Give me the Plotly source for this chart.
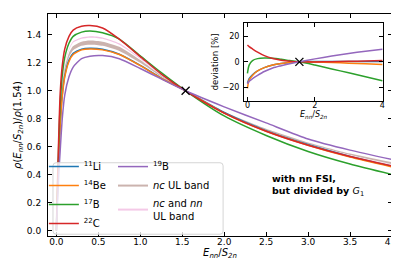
import plotly.graph_objects as go

# ---------------- data ----------------
E = [0.0, 0.005, 0.01, 0.02, 0.03, 0.045, 0.07, 0.1, 0.15, 0.2, 0.3, 0.4, 0.55, 0.75,
     1.0, 1.25, 1.54, 2.0, 2.5, 3.0, 3.5, 4.0]

rho_Li11 = [0, 0.115, 0.22, 0.39, 0.56, 0.76, 0.97, 1.11, 1.22, 1.268, 1.298, 1.305, 1.298, 1.262,
            1.182, 1.091, 1.0, 0.845, 0.715, 0.615, 0.53, 0.46]
rho_Be14 = [0, 0.11, 0.21, 0.38, 0.55, 0.75, 0.96, 1.10, 1.21, 1.26, 1.293, 1.30, 1.293, 1.26,
            1.18, 1.09, 1.0, 0.84, 0.71, 0.61, 0.525, 0.455]
rho_B17 = [0, 0.13, 0.25, 0.46, 0.66, 0.90, 1.11, 1.24, 1.34, 1.39, 1.42, 1.428, 1.415, 1.37,
           1.25, 1.13, 1.0, 0.82, 0.68, 0.565, 0.475, 0.40]
rho_C22 = [0, 0.15, 0.28, 0.50, 0.72, 0.98, 1.18, 1.30, 1.39, 1.435, 1.462, 1.467, 1.45, 1.37,
           1.245, 1.12, 1.0, 0.84, 0.71, 0.61, 0.53, 0.462]
rho_B19 = [0, 0.08, 0.15, 0.28, 0.42, 0.57, 0.80, 0.97, 1.10, 1.17, 1.23, 1.248, 1.252, 1.23,
           1.16, 1.085, 1.0, 0.885, 0.77, 0.655, 0.575, 0.508]
nc_lo = [0, 0.12, 0.23, 0.41, 0.59, 0.80, 1.01, 1.14, 1.24, 1.29, 1.322, 1.33, 1.322, 1.285,
         1.20, 1.10, 1.0, 0.845, 0.72, 0.62, 0.54, 0.475]
nc_hi = [0, 0.125, 0.24, 0.43, 0.62, 0.84, 1.05, 1.17, 1.27, 1.32, 1.352, 1.36, 1.352, 1.315,
         1.22, 1.11, 1.0, 0.85, 0.728, 0.63, 0.55, 0.488]
ncnn_lo = [0, 0.13, 0.245, 0.45, 0.64, 0.87, 1.07, 1.19, 1.29, 1.345, 1.372, 1.38, 1.372, 1.33,
           1.228, 1.113, 1.0, 0.843, 0.713, 0.613, 0.533, 0.468]
ncnn_hi = [0, 0.132, 0.25, 0.455, 0.65, 0.88, 1.08, 1.20, 1.30, 1.355, 1.382, 1.39, 1.382, 1.34,
           1.236, 1.117, 1.0, 0.847, 0.717, 0.617, 0.537, 0.472]

E_dev = [0.0, 0.05, 0.15, 0.3, 0.5, 0.75, 1.0, 1.25, 1.54, 2.0, 2.5, 3.0, 3.5, 4.0]
dev_Li11 = [-16.5, -13, -10, -7, -4.5, -2.5, -1.3, -0.5, 0.0, 0.2, 0.3, 0.3, 0.3, 0.3]
dev_Be14 = [-20.5, -14, -10.5, -7, -4.5, -2.5, -1.3, -0.5, 0.0, -0.2, -0.6, -1.0, -1.5, -2.0]
dev_B17 = [-9.0, -2.5, 1.0, 2.5, 3.0, 2.8, 2.0, 1.0, 0.0, -2.5, -5.5, -8.5, -11.5, -14.6]
dev_C22 = [13.0, 11.8, 10.0, 7.5, 4.8, 2.6, 1.3, 0.5, 0.0, -0.1, 0.1, 0.4, 0.7, 1.1]
dev_B19 = [-17.0, -15, -13, -10.5, -7.5, -4.8, -3.0, -1.4, 0.0, 2.3, 4.5, 6.5, 8.2, 9.7]

ref_point = [1.54]

COL = {"Li": "#1f77b4", "Be": "#ff7f0e", "B17": "#2ca02c", "C": "#d62728", "B19": "#9467bd"}
FONT = "DejaVu Sans"

fig = go.Figure()

# bands
fig.add_trace(go.Scatter(x=E, y=nc_lo, mode="lines", line=dict(width=0, shape="spline", smoothing=0.6),
                         showlegend=False, hoverinfo="skip"))
fig.add_trace(go.Scatter(x=E, y=nc_hi, mode="lines", line=dict(width=0, shape="spline", smoothing=0.6),
                         fill="tonexty", fillcolor="rgba(140,86,75,0.45)", showlegend=False, hoverinfo="skip"))
fig.add_trace(go.Scatter(x=E, y=ncnn_lo, mode="lines", line=dict(width=0, shape="spline", smoothing=0.6),
                         showlegend=False, hoverinfo="skip"))
fig.add_trace(go.Scatter(x=E, y=ncnn_hi, mode="lines", line=dict(width=0, shape="spline", smoothing=0.6),
                         fill="tonexty", fillcolor="rgba(227,119,194,0.45)", showlegend=False, hoverinfo="skip"))

lw = 1.5
series = [
    ("<sup>11</sup>Li", rho_Li11, dev_Li11, COL["Li"], "legend"),
    ("<sup>14</sup>Be", rho_Be14, dev_Be14, COL["Be"], "legend"),
    ("<sup>17</sup>B", rho_B17, dev_B17, COL["B17"], "legend"),
    ("<sup>22</sup>C", rho_C22, dev_C22, COL["C"], "legend"),
    ("<sup>19</sup>B", rho_B19, dev_B19, COL["B19"], "legend2"),
]
for name, rho, dev, c, lg in series:
    fig.add_trace(go.Scatter(x=E, y=rho, mode="lines", name=name, legend=lg,
                             line=dict(color=c, width=lw, shape="spline", smoothing=0.6)))
    fig.add_trace(go.Scatter(x=E_dev, y=dev, mode="lines", showlegend=False,
                             line=dict(color=c, width=lw, shape="spline", smoothing=0.8),
                             xaxis="x2", yaxis="y2"))

# legend entries for bands
fig.add_trace(go.Scatter(x=[None], y=[None], mode="lines", name="<i>nc</i> UL band", legend="legend2",
                         line=dict(color="rgba(140,86,75,0.45)", width=2)))
fig.add_trace(go.Scatter(x=[None], y=[None], mode="lines", name="<i>nc</i> and <i>nn</i><br>UL band",
                         legend="legend2", line=dict(color="rgba(227,119,194,0.4)", width=2)))

# reference markers
fig.add_trace(go.Scatter(x=ref_point, y=[1.0], mode="markers", showlegend=False,
                         marker=dict(symbol="x-thin", size=8, line=dict(color="black", width=1.3))))
fig.add_trace(go.Scatter(x=ref_point, y=[0.0], mode="markers", showlegend=False, xaxis="x2", yaxis="y2",
                         marker=dict(symbol="x-thin", size=8, line=dict(color="black", width=1.3))))

axcommon = dict(showline=True, linecolor="black", linewidth=1, mirror="allticks", ticks="inside",
                ticklen=4, tickcolor="black", showgrid=False, zeroline=False)

# rounded legend frame (paper coordinates)
fx0, fx1, fy0, fy1 = 0.0145, 0.509, 0.008, 0.33
rx, ry = 0.009, 0.014
frame_path = (f"M{fx0+rx},{fy0} L{fx1-rx},{fy0} Q{fx1},{fy0} {fx1},{fy0+ry} "
              f"L{fx1},{fy1-ry} Q{fx1},{fy1} {fx1-rx},{fy1} L{fx0+rx},{fy1} "
              f"Q{fx0},{fy1} {fx0},{fy1-ry} L{fx0},{fy0+ry} Q{fx0},{fy0} {fx0+rx},{fy0} Z")

fig.update_layout(
    width=399, height=261,
    margin=dict(l=40, r=15, t=6, b=33),
    paper_bgcolor="white", plot_bgcolor="white",
    font=dict(family=FONT, size=9, color="black"),
    xaxis=dict(range=[-0.1, 4.0], tickvals=[0, 0.5, 1, 1.5, 2, 2.5, 3, 3.5, 4], tickformat=".1f",
               title=dict(text="<i>E<sub>nn</sub></i>/<i>S<sub>2n</sub></i>", font=dict(size=10), standoff=1),
               ticklabelstandoff=-3, **axcommon),
    yaxis=dict(range=[-0.04, 1.55], tickvals=[0, 0.2, 0.4, 0.6, 0.8, 1.0, 1.2, 1.4], tickformat=".1f",
               title=dict(text="<i>ρ</i>(<i>E<sub>nn</sub></i>/<i>S<sub>2n</sub></i>)/<i>ρ</i>(1.54)",
                          font=dict(size=10), standoff=3),
               ticklabelstandoff=4, **axcommon),
    xaxis2=dict(domain=[0.570, 0.974], anchor="y2", range=[-0.1, 4.02], tickvals=[0, 2, 4],
                tickfont=dict(size=8),
                title=dict(text="<i>E<sub>nn</sub></i>/<i>S<sub>2n</sub></i>", font=dict(size=8), standoff=0),
                ticklabelstandoff=-3, **axcommon),
    yaxis2=dict(domain=[0.610, 0.959], anchor="x2", range=[-30, 30], tickvals=[-20, 0, 20],
                tickfont=dict(size=8),
                title=dict(text="deviation [%]", font=dict(size=8.5), standoff=2),
                ticklabelstandoff=2, **axcommon),
    legend=dict(x=-0.012, y=0.378, xanchor="left", yanchor="top", bgcolor="rgba(0,0,0,0)",
                font=dict(size=10), itemwidth=30, tracegroupgap=0, traceorder="normal"),
    legend2=dict(x=0.189, y=0.378, xanchor="left", yanchor="top", bgcolor="rgba(0,0,0,0)",
                 font=dict(size=10), itemwidth=30, tracegroupgap=0, traceorder="normal"),
    shapes=[dict(type="path", xref="paper", yref="paper", path=frame_path,
                 line=dict(color="#d5d5d5", width=1), fillcolor="rgba(255,255,255,0.8)", layer="above")],
    annotations=[dict(x=0.645, y=0.227, xref="paper", yref="paper", xanchor="left", yanchor="middle",
                      align="left", showarrow=False,
                      text="<b>with nn FSI,</b><br><b>but divided by </b><i>G</i><sub>1</sub>",
                      font=dict(size=9.5, color="black"))],
)

fig.write_html("out.html")
